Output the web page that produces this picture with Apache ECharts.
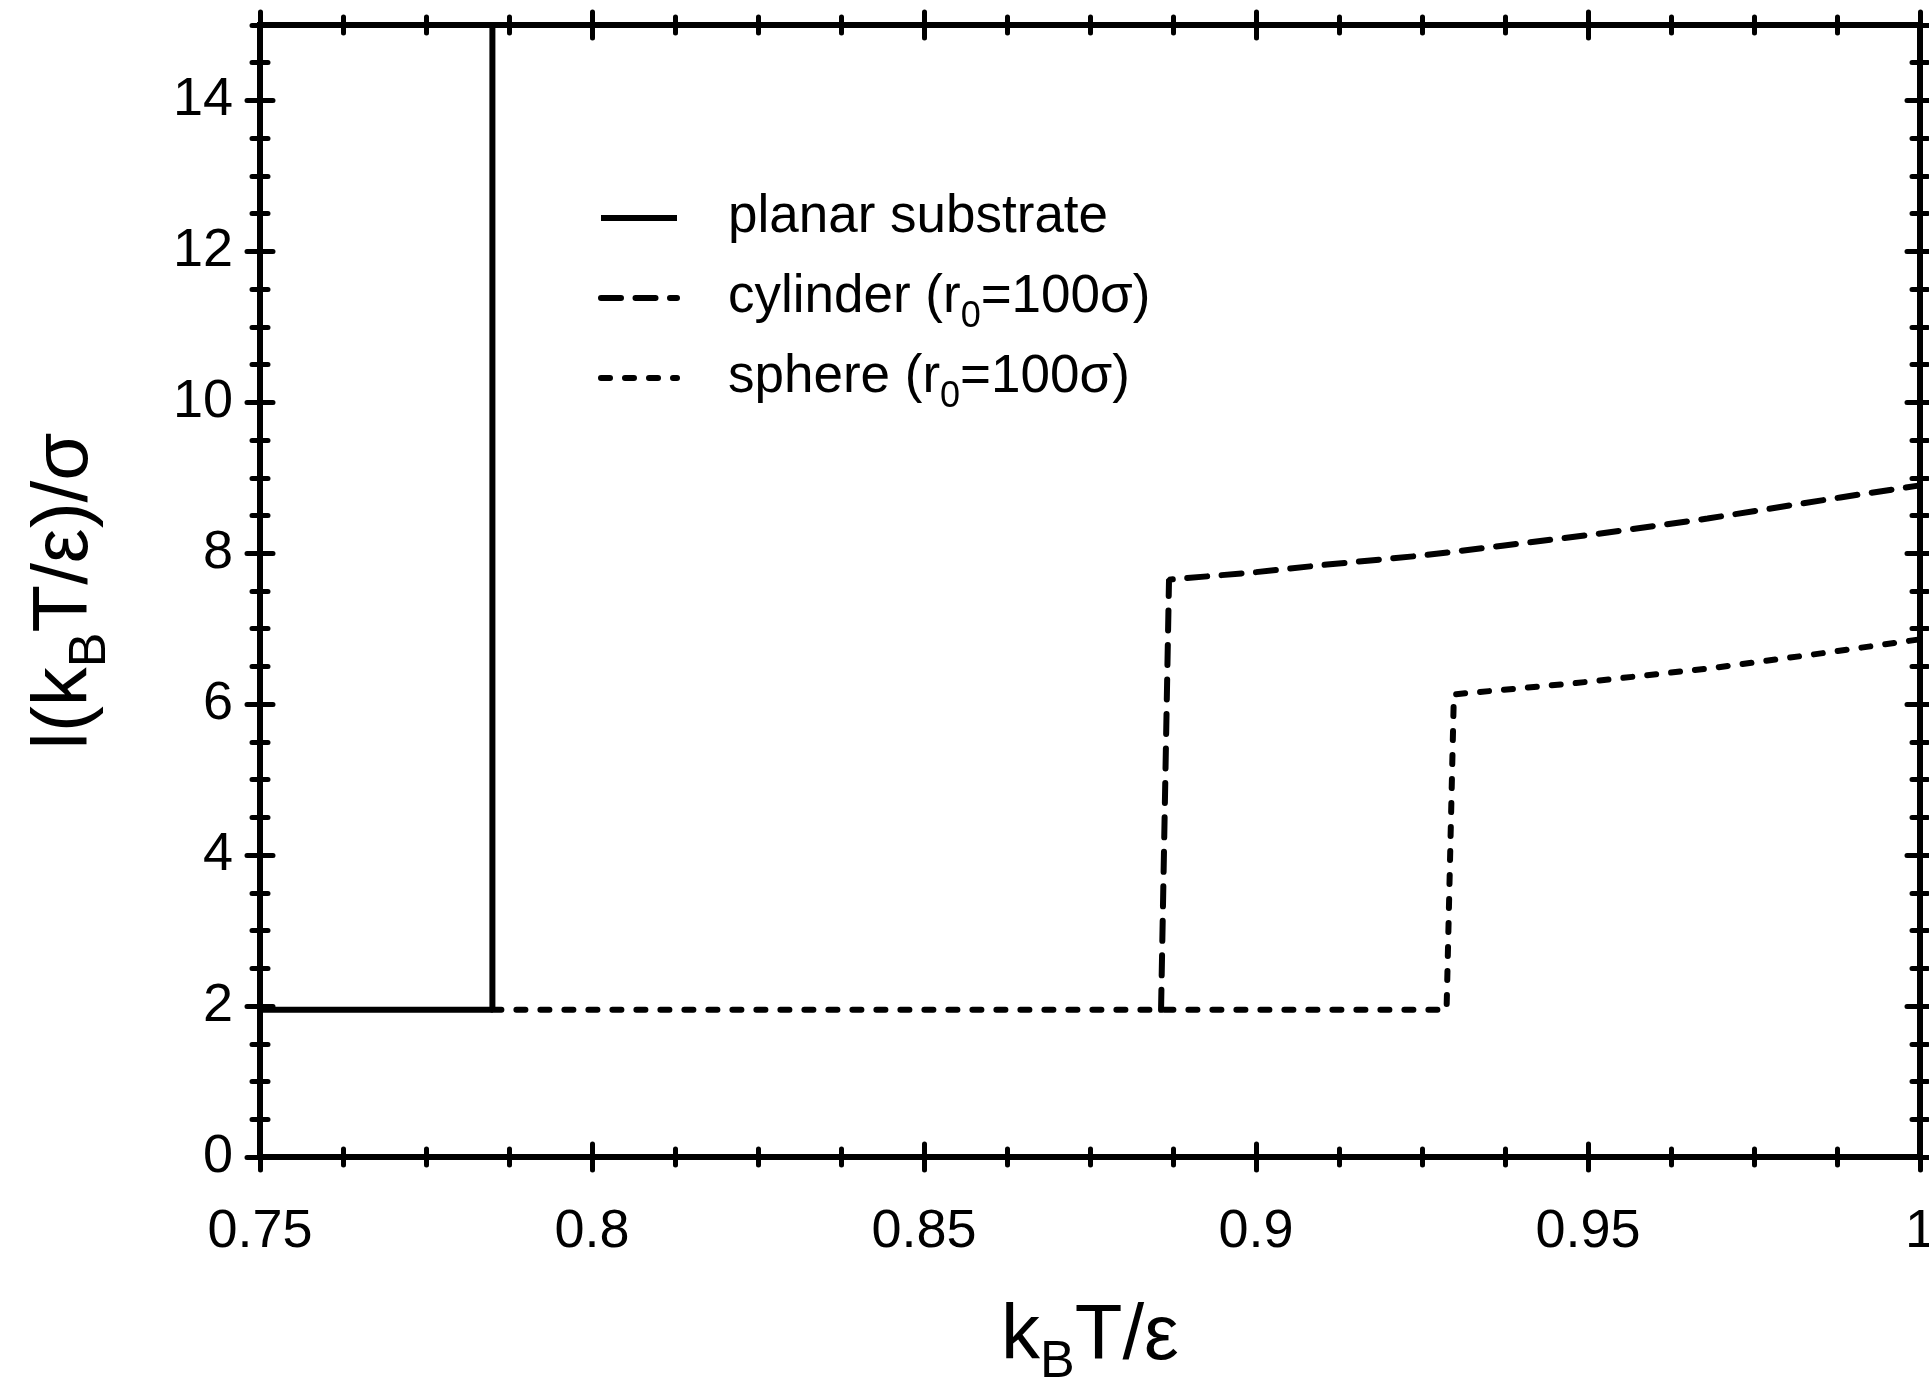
<!DOCTYPE html>
<html>
<head>
<meta charset="utf-8">
<script src="https://cdn.jsdelivr.net/npm/echarts@6/dist/echarts.min.js"></script>
<style>
  html, body { margin: 0; padding: 0; background: #fff; }
  #chart { width: 1929px; height: 1391px; }
</style>
</head>
<body>
<div id="chart"></div>
<script>
// 数据 (k_B T / ε , l / σ)
const seriesNames = ['planar substrate', 'cylinder (r0=100σ)', 'sphere (r0=100σ)'];
const planarData = [[0.75, 1.95], [0.785, 1.95], [0.785, 15]];
const cylinderData = [
    [0.8857, 1.95], [0.8869, 7.65], [0.90, 7.75], [0.9107, 7.85],
    [0.925, 7.97], [0.9371, 8.10], [0.95, 8.24], [0.968, 8.46], [0.988, 8.74], [1.0, 8.90]
];
const sphereData = [
    [0.785, 1.95], [0.9287, 1.95], [0.9298, 6.13], [0.9482, 6.28], [0.9688, 6.48],
    [0.984, 6.66], [1.0, 6.86]
];
const xRange = [0.75, 1.0];
const xStep = 0.05;
const yRange = [0, 15];
const yStep = 2;
const yMinorStep = 0.5;

const FONT = 'Liberation Sans, Arial, sans-serif';
const BLACK = '#000';

// 轴：刻度线穿过轴线，所以每条边画一根向内、一根向外的轴
function makeXAxis(position, inside, showLabel) {
    return {
        type: 'value',
        position: position,
        min: xRange[0],
        max: xRange[1],
        interval: xStep,
        axisLine: { show: true, onZero: false, lineStyle: { color: BLACK, width: 6, cap: 'square' } },
        axisTick: { show: true, inside: inside, length: 13, lineStyle: { color: BLACK, width: 5, cap: 'round' } },
        minorTick: { show: true, splitNumber: 4, length: 8, lineStyle: { color: BLACK, width: 5, cap: 'round' } },
        axisLabel: { show: showLabel, margin: 48, color: BLACK, fontSize: 54, fontFamily: FONT },
        splitLine: { show: false },
        minorSplitLine: { show: false }
    };
}

function makeYAxis(position, inside, step, len, showLabel) {
    return {
        type: 'value',
        position: position,
        min: yRange[0],
        max: yRange[1],
        interval: step,
        axisLine: { show: true, onZero: false, lineStyle: { color: BLACK, width: 6, cap: 'square' } },
        axisTick: { show: true, inside: inside, length: len, lineStyle: { color: BLACK, width: 5, cap: 'round' } },
        axisLabel: { show: showLabel, showMaxLabel: false, margin: 27, color: BLACK, fontSize: 54, fontFamily: FONT },
        splitLine: { show: false }
    };
}

const xAxes = [
    makeXAxis('bottom', false, true),
    makeXAxis('bottom', true, false),
    makeXAxis('top', true, false),
    makeXAxis('top', false, false)
];
const yAxes = [
    makeYAxis('left', false, yStep, 13, true),
    makeYAxis('left', true, yStep, 13, false),
    makeYAxis('left', false, yMinorStep, 8, false),
    makeYAxis('left', true, yMinorStep, 8, false),
    makeYAxis('right', false, yStep, 13, false),
    makeYAxis('right', true, yStep, 13, false),
    makeYAxis('right', false, yMinorStep, 8, false),
    makeYAxis('right', true, yMinorStep, 8, false)
];

// 轴标题 (带下标)
const nameRich = {
    t: { fontSize: 78, lineHeight: 78, fontFamily: FONT, color: BLACK, verticalAlign: 'top' },
    s: { fontSize: 52, lineHeight: 52, fontFamily: FONT, color: BLACK, verticalAlign: 'top', padding: [39, 0, 0, 0] }
};
Object.assign(xAxes[0], {
    name: '{t|k}{s|B}{t|T/ε}',
    nameLocation: 'middle',
    nameGap: 141,
    nameTextStyle: { rich: nameRich }
});
Object.assign(yAxes[0], {
    name: '{t|l(k}{s|B}{t|T/ε)/σ}',
    nameLocation: 'middle',
    nameGap: 156,
    nameTextStyle: { rich: nameRich }
});

function lineSeries(name, data, dash) {
    return {
        name: name,
        type: 'line',
        data: data,
        xAxisIndex: 0,
        yAxisIndex: 0,
        symbol: 'none',
        smooth: false,
        clip: false,
        lineStyle: { color: BLACK, width: 6, type: dash, cap: dash === 'solid' ? 'butt' : 'round' },
        itemStyle: { color: BLACK }
    };
}

// 图例文字里 r0 的 0 是下标
function legendLabel(name) {
    const m = name.match(/^(.*\(r)0(=.*)$/);
    if (m) {
        return '{g| }{t|' + m[1] + '}{s|0}{t|' + m[2] + '}';
    }
    return '{g| }{t|' + name + '}{s| }';
}

const chart = echarts.init(document.getElementById('chart'));
chart.setOption({
    animation: false,
    backgroundColor: '#fff',
    grid: { left: 260, right: 9, top: 25, bottom: 234, containLabel: false, outerBoundsMode: 'none' },
    xAxis: xAxes,
    yAxis: yAxes,
    legend: {
        orient: 'vertical',
        left: 598,
        top: 191,
        padding: 0,
        itemWidth: 76,
        itemHeight: 20,
        itemGap: 16,
        selectedMode: false,
        data: seriesNames,
        formatter: legendLabel,
        // 去掉图例中间的圆点
        itemStyle: { color: 'rgba(0,0,0,0)', borderWidth: 0, opacity: 0 },
        lineStyle: { width: 6 },
        textStyle: {
            color: BLACK,
            rich: {
                g: { width: 46 },
                t: { fontSize: 53, lineHeight: 54, fontFamily: FONT, color: BLACK, verticalAlign: 'top' },
                s: { fontSize: 36, lineHeight: 36, fontFamily: FONT, color: BLACK, verticalAlign: 'top', padding: [28, 0, 0, 0] }
            }
        }
    },
    series: [
        lineSeries(seriesNames[0], planarData, 'solid'),
        lineSeries(seriesNames[1], cylinderData, [20, 14.5]),
        lineSeries(seriesNames[2], sphereData, [9, 15])
    ]
});
</script>
</body>
</html>
